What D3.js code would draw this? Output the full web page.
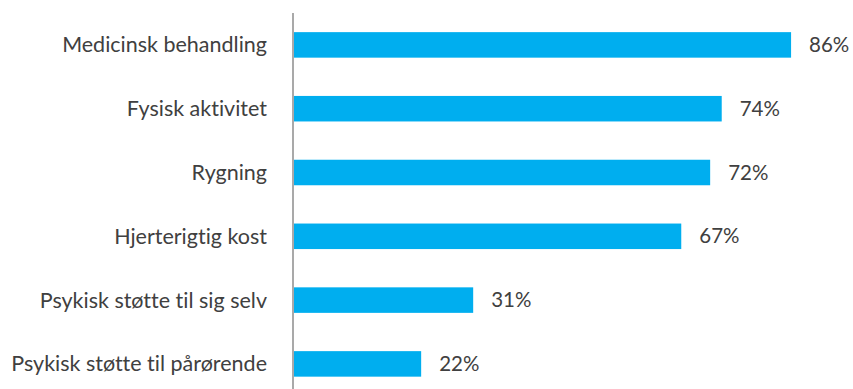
<!DOCTYPE html>
<html>
<head>
<meta charset="utf-8">
<script src="https://cdn.jsdelivr.net/npm/d3@7"></script>
<style>
  body { margin: 0; background: #fff; }
  text {
    font-family: Lato, "Open Sans", sans-serif;
    fill: #404040;
    font-variant-ligatures: none;
  }
</style>
</head>
<body>
<div id="chart"></div>
<script>
// Data
const categories = [
  "Medicinsk behandling",
  "Fysisk aktivitet",
  "Rygning",
  "Hjerterigtig kost",
  "Psykisk støtte til sig selv",
  "Psykisk støtte til pårørende"
];
const values = [86, 74, 72, 67, 31, 22];

const data = categories.map((c, i) => ({ name: c, value: values[i] }));

let width = 853, height = 389;
let axisX = 294;

let svg = d3
  .select("#chart")
  .append("svg")
  .attr("width", width)
  .attr("height", height);

let x = d3.scaleLinear().domain([0, 100]).range([axisX, axisX + 578]);
let y = d3
  .scaleBand()
  .domain(categories)
  .range([13, 13 + 6 * 63.8])
  .paddingInner(0.6)
  .paddingOuter(0.3);

// bars
svg
  .append("g")
  .selectAll("rect")
  .data(data)
  .enter()
  .append("rect")
  .attr("x", x(0))
  .attr("y", (d) => y(d.name))
  .attr("width", (d) => x(d.value) - x(0))
  .attr("height", y.bandwidth())
  .attr("fill", "#00AEEF");

// vertical axis line
svg
  .append("line")
  .attr("x1", axisX - 1)
  .attr("x2", axisX - 1)
  .attr("y1", 13)
  .attr("y2", height)
  .attr("stroke", "#8c8c8c")
  .attr("stroke-width", 1.5);

// category labels
svg
  .append("g")
  .selectAll("text")
  .data(data)
  .enter()
  .append("text")
  .attr("x", 267)
  .attr("y", (d) => y(d.name) + y.bandwidth() / 2)
  .attr("dy", "0.35em")
  .attr("text-anchor", "end")
  .style("font-size", "21.5px")
  .text((d) => d.name);

// value labels
svg
  .append("g")
  .selectAll("text")
  .data(data)
  .enter()
  .append("text")
  .attr("x", (d) => x(d.value) + 18)
  .attr("y", (d) => y(d.name) + y.bandwidth() / 2)
  .attr("dy", "0.35em")
  .style("font-size", "20.5px")
  .text((d) => d.value + "%");
</script>
</body>
</html>
